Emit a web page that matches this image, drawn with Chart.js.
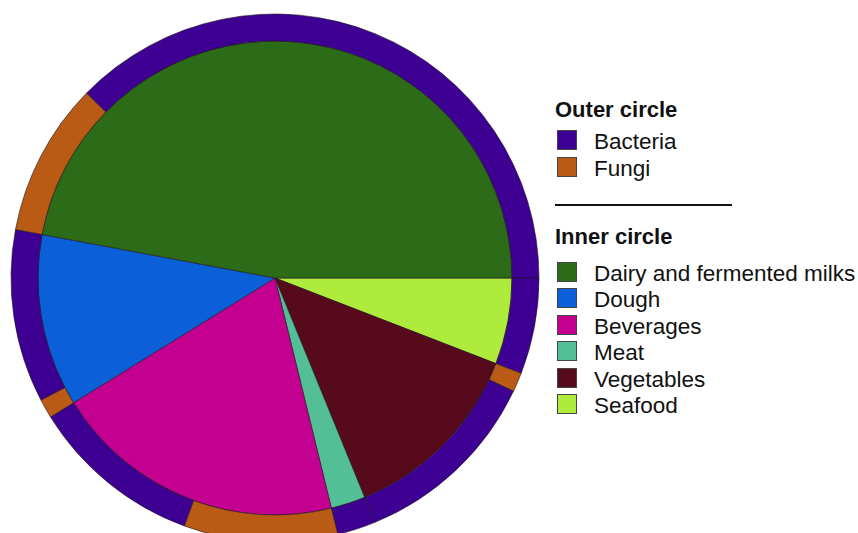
<!DOCTYPE html>
<html>
<head>
<meta charset="utf-8">
<script src="https://cdn.jsdelivr.net/npm/chart.js@4"></script>
<style>
  body { margin: 0; background: #fff; font-family: "Liberation Sans", Arial, sans-serif; color: #111; }
  #wrap { position: absolute; left: 0; top: 0; width: 550px; height: 556px; }
  .head { position: absolute; left: 555px; font-weight: bold; font-size: 22px; line-height: 22px; }
  .item { position: absolute; left: 557px; height: 20px; }
  .item .box { position: absolute; left: 0; top: 0; width: 18px; height: 18px; border: 1px solid #444; }
  .item .lbl { position: absolute; left: 37px; top: 1px; font-size: 22.5px; line-height: 22px; white-space: nowrap; }
  #rule { position: absolute; left: 555px; top: 204px; width: 177px; height: 2px; background: #111; }
</style>
</head>
<body>
<div id="wrap"><canvas id="pie"></canvas></div>
<div id="legend"></div>
<script>
// inner circle: food categories (number of studies), clockwise from 3 o'clock
const foods = ["Seafood", "Vegetables", "Meat", "Beverages", "Dough", "Dairy and fermented milks"];
const foodCounts = [5, 11, 2, 17, 10, 40];
const foodColors = ["#afeb3d", "#570a1b", "#54bf96", "#c3008f", "#0b5fd8", "#2c6c18"];

// outer circle: split of each food category into bacteria / fungi
const outerLabels = ["Bacteria", "Fungi", "Bacteria", "Bacteria", "Fungi", "Bacteria", "Fungi", "Bacteria", "Fungi", "Bacteria"];
const outerCounts = [5, 1, 10, 2, 8, 9, 1, 9, 8, 32];

const microbes = ["Bacteria", "Fungi"];
const microbeColors = { Bacteria: "#3d0092", Fungi: "#b95b14" };

// legend order for the inner circle
const legendFoods = ["Dairy and fermented milks", "Dough", "Beverages", "Meat", "Vegetables", "Seafood"];

new Chart(document.getElementById("pie"), {
  type: "pie",
  data: {
    labels: outerLabels,
    datasets: [
      {
        label: "Outer circle",
        data: outerCounts,
        backgroundColor: outerLabels.map(l => microbeColors[l]),
        weight: 27
      },
      {
        label: "Inner circle",
        data: foodCounts,
        backgroundColor: foodColors,
        weight: 237
      }
    ]
  },
  options: {
    responsive: true,
    maintainAspectRatio: false,
    animation: false,
    rotation: 90,
    radius: 264,
    borderColor: "rgba(30,20,30,0.75)",
    borderWidth: 0.8,
    layout: { padding: 0 },
    plugins: { legend: { display: false }, tooltip: { enabled: false } }
  }
});

// legend
const legend = document.getElementById("legend");
function head(text, top) {
  const d = document.createElement("div");
  d.className = "head";
  d.style.top = top + "px";
  d.textContent = text;
  legend.appendChild(d);
}
function item(text, color, top) {
  const d = document.createElement("div");
  d.className = "item";
  d.style.top = top + "px";
  d.innerHTML = `<div class="box" style="background:${color}"></div><div class="lbl"></div>`;
  d.querySelector(".lbl").textContent = text;
  legend.appendChild(d);
}
head("Outer circle", 99);
microbes.forEach((m, i) => item(m, microbeColors[m], 130 + i * 27));
const rule = document.createElement("div");
rule.id = "rule";
legend.appendChild(rule);
head("Inner circle", 226);
legendFoods.forEach((f, i) => item(f, foodColors[foods.indexOf(f)], 262 + i * 26.4));
</script>
</body>
</html>
